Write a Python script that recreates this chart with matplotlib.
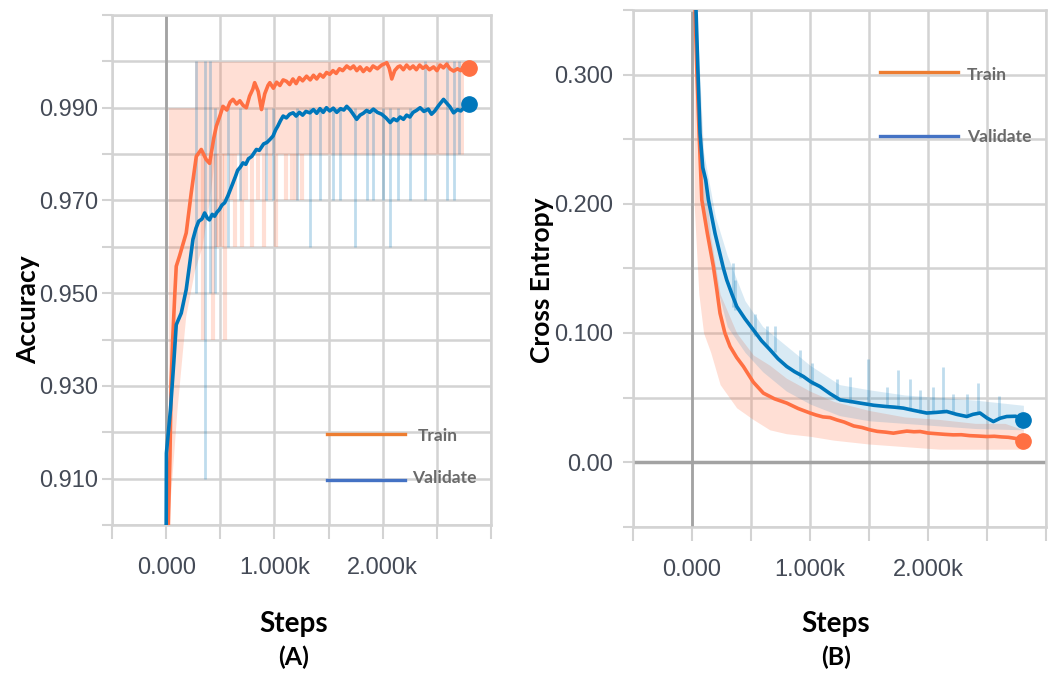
import numpy as np
import matplotlib
matplotlib.use('Agg')
import matplotlib.pyplot as plt
from matplotlib.lines import Line2D


"""data read off the two training curves"""
# (A) accuracy, smoothed curves
acc_train_steps = [20, 35, 46, 60, 80, 93, 123, 185, 231, 278, 324, 370, 401, 440, 463, 500,
                   524, 560, 590, 617, 650, 680, 710, 740, 770, 800, 817, 850, 880, 910, 940,
                   957, 990, 1020, 1050, 1080, 1111, 1140, 1170, 1200, 1230, 1260, 1296, 1330,
                   1360, 1390, 1420, 1450, 1481, 1510, 1540, 1570, 1600, 1630, 1667, 1700, 1730,
                   1760, 1790, 1820, 1852, 1880, 1910, 1950, 1990, 2037, 2060, 2083, 2110, 2140,
                   2160, 2190, 2220, 2250, 2280, 2310, 2340, 2370, 2400, 2430, 2469, 2500, 2530,
                   2560, 2590, 2620, 2654, 2690, 2720, 2747, 2770, 2793]
acc_train = [0.900, 0.915, 0.931, 0.940, 0.950, 0.9558, 0.958, 0.963, 0.9716, 0.9795, 0.981,
             0.9788, 0.978, 0.9835, 0.986, 0.9885, 0.9903, 0.9895, 0.9912, 0.9918, 0.9908,
             0.9915, 0.9905, 0.9900, 0.9925, 0.9940, 0.9954, 0.9935, 0.9896, 0.9930, 0.9948,
             0.9954, 0.9942, 0.9955, 0.9948, 0.9960, 0.9957, 0.9950, 0.9962, 0.9952, 0.9965,
             0.9958, 0.9968, 0.9960, 0.9970, 0.9962, 0.9972, 0.9966, 0.9976, 0.9972, 0.9980,
             0.9974, 0.9984, 0.9980, 0.9990, 0.9984, 0.9990, 0.9980, 0.9988, 0.9978, 0.9986,
             0.9980, 0.9990, 0.9984, 0.9992, 0.9997, 0.9985, 0.9962, 0.9980, 0.9988, 0.9990,
             0.9982, 0.9992, 0.9984, 0.9990, 0.9982, 0.9992, 0.9985, 0.9990, 0.9982, 0.9988,
             0.9980, 0.9992, 0.9986, 0.9994, 0.9984, 0.9979, 0.9984, 0.9980, 0.9990, 0.9994,
             0.9986]

acc_val_steps = [0, 2, 40, 70, 93, 139, 185, 215, 247, 275, 300, 330, 355, 380, 400, 425, 447,
                 470, 490, 515, 540, 570, 595, 617, 640, 660, 685, 709, 735, 760, 790, 810, 833,
                 860, 900, 930, 960, 987, 1010, 1030, 1055, 1080, 1110, 1140, 1172, 1200, 1230,
                 1260, 1290, 1327, 1360, 1390, 1420, 1450, 1480, 1510, 1543, 1575, 1610, 1640,
                 1667, 1700, 1730, 1759, 1790, 1820, 1850, 1880, 1913, 1950, 1990, 2030, 2068,
                 2100, 2130, 2160, 2191, 2220, 2250, 2280, 2310, 2345, 2380, 2420, 2450, 2480,
                 2520, 2561, 2590, 2620, 2654, 2690, 2720, 2750, 2793]
acc_val = [0.900, 0.9155, 0.925, 0.935, 0.9432, 0.9457, 0.9508, 0.9560, 0.9616, 0.9640, 0.9655,
           0.9660, 0.9673, 0.9662, 0.9658, 0.9670, 0.9666, 0.9675, 0.9680, 0.9690, 0.9695,
           0.9710, 0.9725, 0.9738, 0.9752, 0.9765, 0.9772, 0.9781, 0.9778, 0.9790, 0.9795,
           0.9802, 0.9810, 0.9808, 0.9822, 0.9825, 0.9832, 0.9839, 0.9852, 0.9860, 0.9872,
           0.9882, 0.9878, 0.9886, 0.9889, 0.9882, 0.9890, 0.9884, 0.9892, 0.9889, 0.9896,
           0.9888, 0.9898, 0.9890, 0.9900, 0.9893, 0.9899, 0.9890, 0.9898, 0.9895, 0.9903,
           0.9895, 0.9885, 0.9875, 0.9884, 0.9888, 0.9894, 0.9890, 0.9897, 0.9890, 0.9886,
           0.9878, 0.9868, 0.9876, 0.9872, 0.9880, 0.9875, 0.9884, 0.9880, 0.9890, 0.9894,
           0.9900, 0.9892, 0.9897, 0.9886, 0.9893, 0.9906, 0.9918, 0.9910, 0.9902, 0.9889,
           0.9896, 0.9893, 0.9900, 0.9907]

# (A) raw values: train envelope + spikes, validation spikes
acc_band_steps = [20, 100, 180, 262, 263, 330, 400, 450, 2745]
acc_band_lo = [0.900, 0.925, 0.945, 0.955, 0.955, 0.960, 0.970, 0.980, 0.980]
acc_band_hi = [0.990, 0.990, 0.990, 0.990, 1.000, 1.000, 1.000, 1.000, 1.000]
acc_tspike_steps = [340, 430, 460, 480, 520, 545, 600, 640, 700, 740, 790, 850, 900, 960,
                    1010, 1110, 1160, 1200, 1250]
acc_tspike_lo = [0.940, 0.940, 0.960, 0.960, 0.960, 0.940, 0.970, 0.960, 0.960, 0.970, 0.960,
                 0.970, 0.960, 0.970, 0.960, 0.970, 0.970, 0.970, 0.970]
acc_vspike_steps = [278, 355, 401, 447, 571, 679, 926, 988, 1204, 1327, 1420, 1543, 1605, 1744,
                    1852, 1913, 2006, 2068, 2145, 2253, 2392, 2593, 2654, 2700]
acc_vspike_lo = [0.950, 0.910, 0.950, 0.950, 0.960, 0.970, 0.970, 0.970, 0.970, 0.960, 0.970,
                 0.970, 0.970, 0.960, 0.970, 0.970, 0.970, 0.960, 0.970, 0.970, 0.970, 0.970,
                 0.970, 0.980]
acc_vspike_hi = [1.000, 1.000, 1.000, 0.990, 0.990, 0.990, 0.990, 0.990, 0.990, 0.990, 0.990,
                 0.990, 0.990, 0.990, 0.990, 0.990, 0.990, 0.990, 0.990, 0.990, 1.000, 1.000,
                 1.000, 1.000]

# (B) cross entropy, smoothed curves
ce_train_steps = [15, 28, 42, 62, 85, 132, 183, 212, 239, 280, 324, 380, 437, 520, 606, 700,
                  804, 900, 1001, 1050, 1110, 1170, 1227, 1290, 1370, 1440, 1508, 1570, 1640,
                  1706, 1760, 1820, 1880, 1932, 2000, 2070, 2140, 2213, 2280, 2350, 2420, 2496,
                  2560, 2620, 2680, 2721, 2760, 2806]
ce_train = [0.42, 0.35, 0.306, 0.2546, 0.203, 0.177, 0.1514, 0.1334, 0.1153, 0.100, 0.0895,
            0.081, 0.074, 0.062, 0.0534, 0.049, 0.0457, 0.0415, 0.038, 0.0365, 0.035, 0.0345,
            0.0327, 0.031, 0.028, 0.0268, 0.025, 0.0238, 0.0232, 0.0224, 0.0232, 0.024, 0.0235,
            0.0237, 0.0225, 0.022, 0.0215, 0.0211, 0.0212, 0.0205, 0.0202, 0.0198, 0.020,
            0.0195, 0.0192, 0.0186, 0.018, 0.016]

ce_val_steps = [25, 36, 51, 70, 93, 118, 141, 197, 268, 296, 340, 381, 450, 521, 590, 662, 730,
                804, 870, 944, 1010, 1085, 1170, 1255, 1340, 1424, 1540, 1650, 1720, 1790,
                1880, 1988, 2070, 2157, 2240, 2327, 2380, 2439, 2500, 2552, 2610, 2665, 2740,
                2806]
ce_val = [0.42, 0.35, 0.306, 0.2546, 0.228, 0.2185, 0.203, 0.177, 0.150, 0.141, 0.130, 0.1204,
          0.111, 0.1024, 0.094, 0.087, 0.080, 0.074, 0.070, 0.0663, 0.062, 0.0585, 0.053,
          0.0482, 0.047, 0.0457, 0.044, 0.043, 0.0425, 0.0418, 0.040, 0.038, 0.0385, 0.0392,
          0.037, 0.0353, 0.037, 0.038, 0.034, 0.0314, 0.034, 0.0353, 0.0355, 0.0327]

# (B) raw values: envelopes + validation spikes
ce_tband_steps = [20, 60, 100, 160, 240, 380, 520, 660, 800, 1000, 1200, 1500, 1800, 2100,
                  2400, 2650, 2806]
ce_tband_lo = [0.20, 0.13, 0.10, 0.085, 0.060, 0.042, 0.033, 0.025, 0.022, 0.020, 0.017, 0.014,
               0.012, 0.010, 0.010, 0.010, 0.010]
ce_tband_hi = [0.40, 0.30, 0.23, 0.175, 0.130, 0.100, 0.083, 0.075, 0.065, 0.055, 0.047, 0.040,
               0.035, 0.033, 0.030, 0.030, 0.025]
ce_vband_steps = [40, 100, 200, 300, 450, 600, 800, 1000, 1250, 1500, 1800, 2100, 2400, 2806]
ce_vband_lo = [0.30, 0.19, 0.14, 0.105, 0.085, 0.070, 0.055, 0.045, 0.036, 0.032, 0.030, 0.028,
               0.026, 0.025]
ce_vband_hi = [0.35, 0.24, 0.19, 0.160, 0.125, 0.105, 0.090, 0.075, 0.060, 0.056, 0.052, 0.050,
               0.048, 0.044]
ce_vspike_steps = [352, 366, 536, 634, 705, 916, 1015, 1227, 1339, 1494, 1650, 1748, 1847,
                   1932, 2044, 2129, 2213, 2327, 2425, 2603]
ce_vspike_hi = [0.154, 0.141, 0.115, 0.105, 0.105, 0.087, 0.077, 0.064, 0.066, 0.080, 0.058,
                0.071, 0.064, 0.056, 0.058, 0.074, 0.053, 0.053, 0.061, 0.051]
ce_vspike_lo = [0.120, 0.118, 0.098, 0.090, 0.085, 0.065, 0.060, 0.048, 0.046, 0.044, 0.043,
                0.042, 0.040, 0.038, 0.038, 0.039, 0.037, 0.035, 0.037, 0.034]

x_ticks = [-500, 0, 500, 1000, 1500, 2000, 2500, 3000]
x_labels = ['', '0.000', '', '1.000k', '', '2.000k', '', '']
acc_ticks = [0.900, 0.910, 0.920, 0.930, 0.940, 0.950, 0.960, 0.970, 0.980, 0.990, 1.000, 1.010]
acc_labels = ['', '0.910', '', '0.930', '', '0.950', '', '0.970', '', '0.990', '', '']
ce_ticks = [-0.05, 0.00, 0.05, 0.10, 0.15, 0.20, 0.25, 0.30, 0.35]
ce_labels = ['', '0.00', '', '0.100', '', '0.200', '', '0.300', '']


"""styles"""
ORANGE = '#ff7043'
BLUE = '#0077bb'
GRID = '#d3d3d3'
ZERO = '#a3a3a3'
tick_font = ['Liberation Sans', 'DejaVu Sans']
bold_font = ['Lato', 'DejaVu Sans']


def style_axes(ax, yticks, ylabels, ypad):
    ax.set_xlim(-500, 3000)
    ax.set_xticks(x_ticks)
    ax.set_xticklabels(x_labels)
    ax.set_yticks(yticks)
    ax.set_yticklabels(ylabels)
    ax.grid(True, color=GRID, lw=1.8)
    ax.set_axisbelow(True)
    for s in ax.spines.values():
        s.set_color(GRID)
        s.set_linewidth(1.8)
    ax.tick_params(axis='x', length=10, width=1.5, color=GRID, pad=13,
                   labelsize=17, labelcolor='#444a56')
    ax.tick_params(axis='y', length=7, width=1.5, color=GRID, pad=ypad,
                   labelsize=17, labelcolor='#444a56')
    for t in ax.get_xticklabels() + ax.get_yticklabels():
        t.set_family(tick_font)


fig = plt.figure(figsize=(10.52, 6.75), dpi=100)

"""(A) accuracy"""
ax1 = fig.add_axes([0.1065, 0.2222, 0.3603, 0.7556])
style_axes(ax1, acc_ticks, acc_labels, 3)
ax1.set_ylim(0.900, 1.010)
ax1.axvline(0, color=ZERO, lw=2, zorder=1)
ax1.fill_between(acc_band_steps, acc_band_lo, acc_band_hi, color=ORANGE, alpha=0.22, lw=0, zorder=2)
ax1.vlines(acc_tspike_steps, acc_tspike_lo, 0.98, color=ORANGE, alpha=0.22, lw=3, zorder=2)
ax1.vlines(acc_vspike_steps, acc_vspike_lo, acc_vspike_hi, color=BLUE, alpha=0.25, lw=2, zorder=3)
ax1.plot(acc_train_steps, acc_train, color=ORANGE, lw=2.6, zorder=4)
ax1.plot(acc_val_steps, acc_val, color=BLUE, lw=2.6, zorder=5)
ax1.plot(acc_train_steps[-1], acc_train[-1], 'o', color=ORANGE, ms=11, zorder=6, clip_on=False)
ax1.plot(acc_val_steps[-1], acc_val[-1], 'o', color=BLUE, ms=11, zorder=6, clip_on=False)

"""(B) cross entropy"""
ax2 = fig.add_axes([0.6014, 0.2197, 0.3932, 0.7655])
style_axes(ax2, ce_ticks, ce_labels, 7)
ax2.set_ylim(-0.05, 0.35)
ax2.axvline(0, color=ZERO, lw=2, zorder=1)
ax2.axhline(0, color=ZERO, lw=2.5, zorder=1)
ax2.fill_between(ce_tband_steps, ce_tband_lo, ce_tband_hi, color=ORANGE, alpha=0.22, lw=0, zorder=2)
ax2.fill_between(ce_vband_steps, ce_vband_lo, ce_vband_hi, color=BLUE, alpha=0.15, lw=0, zorder=2)
ax2.vlines(ce_vspike_steps, ce_vspike_lo, ce_vspike_hi, color=BLUE, alpha=0.25, lw=2, zorder=3)
ax2.plot(ce_train_steps, ce_train, color=ORANGE, lw=2.6, zorder=4)
ax2.plot(ce_val_steps, ce_val, color=BLUE, lw=2.6, zorder=5)
ax2.plot(ce_train_steps[-1], ce_train[-1], 'o', color=ORANGE, ms=11, zorder=6, clip_on=False)
ax2.plot(ce_val_steps[-1], ce_val[-1], 'o', color=BLUE, ms=11, zorder=6, clip_on=False)

"""axis titles"""
fig.text(0.0266, 0.541, 'Accuracy', rotation=90, ha='center', va='center',
         fontsize=19, fontweight='bold', family=bold_font)
fig.text(0.515, 0.585, 'Cross Entropy', rotation=90, ha='center', va='center',
         fontsize=19, fontweight='bold', family=bold_font)
for xc, tag in [(0.2795, '(A)'), (0.7947, '(B)')]:
    fig.text(xc, 0.064, 'Steps', ha='center', va='baseline',
             fontsize=20, fontweight='bold', family=bold_font)
    fig.text(xc, 0.014, tag, ha='center', va='baseline',
             fontsize=18, fontweight='bold', family=bold_font)

"""legend overlays"""
legend_items = [
    (0.3108, 0.385, 0.3566, 0.3973, 0.354, '#ed7d31', 'Train'),
    (0.3108, 0.385, 0.2889, 0.3916, 0.292, '#4472c4', 'Validate'),
    (0.8365, 0.9106, 0.8929, 0.9192, 0.889, '#ed7d31', 'Train'),
    (0.8365, 0.9106, 0.7985, 0.9192, 0.797, '#4472c4', 'Validate'),
]
for x0, x1, yl, xt, yt, col, lab in legend_items:
    fig.add_artist(Line2D([x0, x1], [yl, yl], color=col, lw=2.4, transform=fig.transFigure))
    fig.text(xt, yt, lab, ha='left', va='center', fontsize=12.5, fontweight='bold',
             color='#6a6a6a', family=bold_font)

fig.savefig('out.png', dpi=100)
